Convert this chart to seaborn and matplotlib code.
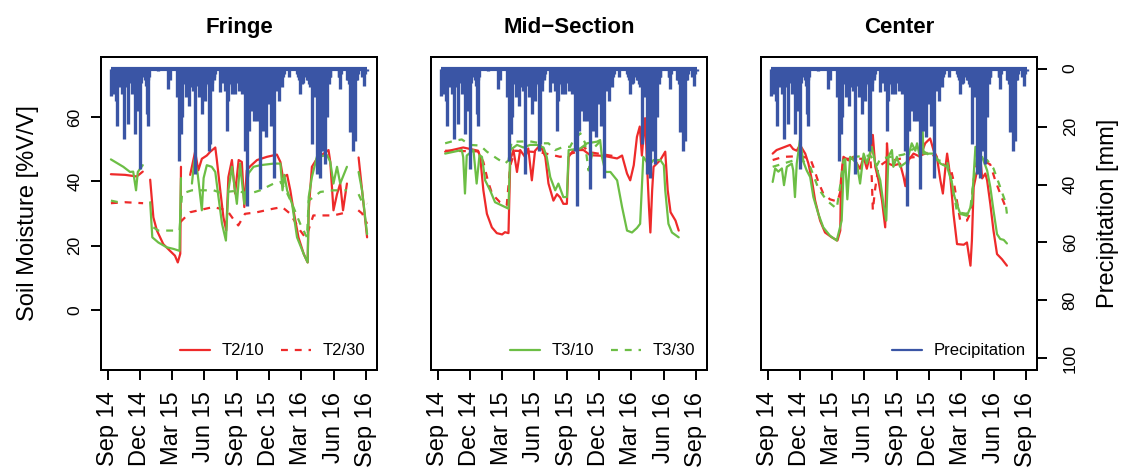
import numpy as np
import pandas as pd
import matplotlib
matplotlib.use("Agg")
import matplotlib.pyplot as plt
from matplotlib.lines import Line2D
import seaborn as sns

# ---------------- data (days since 2014-09-01) ----------------
START = "2014-09-01"

precip_days = [9, 16, 24, 27, 33, 37, 41, 46, 52, 58, 63, 68, 73, 77, 82, 90, 96, 106, 110, 115,
               143, 170, 176, 197, 202, 207, 211, 216, 221, 225, 230, 235, 240, 247, 252, 257, 261,
               266, 271, 275, 280, 285, 290, 294, 299, 304, 318, 323, 327, 332, 337, 341, 346, 351,
               356, 360, 365, 370, 374, 379, 384, 389, 393, 398, 403, 407, 412, 417, 422, 429, 433,
               439, 442, 447, 452, 457, 461, 467, 471, 478, 483, 488, 492, 497, 511, 535, 544, 549,
               556, 563, 568, 573, 577, 582, 587, 591, 596, 601, 606, 610, 615, 620, 624, 629, 653,
               657, 676, 681, 686, 692, 700, 705, 723, 733]
precip_mm = [9.3, 8.8, 11.1, 19.7, 6.5, 5.3, 8.8, 24.3, 6.5, 19.1, 4.1, 8.8, 3.0, 22.6, 14.5, 34.7,
             1.3, 4.1, 15.7, 19.7, 0.7, 7.0, 4.1, 9.9, 31.8, 22.6, 16.8, 5.3, 9.9, 8.8, 12.8, 6.5,
             7.6, 36.4, 5.3, 9.9, 4.7, 15.7, 7.6, 11.1, 5.3, 28.4, 26.1, 7.6, 4.1, 1.8, 8.2, 1.8,
             4.1, 7.6, 21.4, 11.1, 5.3, 8.8, 6.5, 8.8, 4.1, 7.6, 3.0, 8.8, 6.5, 28.4, 47.4, 21.4,
             8.8, 14.5, 18.0, 5.3, 18.0, 41.6, 16.8, 21.4, 9.9, 23.7, 12.2, 6.5, 19.7, 3.0, 37.6,
             7.6, 11.1, 4.1, 6.5, 1.8, 3.0, 1.8, 8.8, 5.3, 2.4, 4.1, 5.3, 6.5, 26.1, 7.6, 9.9, 36.4,
             30.7, 37.6, 28.4, 21.4, 33.0, 16.8, 5.3, 3.0, 3.0, 7.0, 4.1, 5.3, 22.0, 28.4, 24.9,
             4.1, 5.9, 1.0]
# smaller daily totals filling the top band (estimated)
precip_small_days = [12, 19, 30, 44, 49, 55, 61, 66, 70, 75, 80, 86, 93, 100, 103, 108, 113, 118,
                     199, 204, 209, 213, 218, 223, 228, 232, 237, 244, 249, 254, 259, 263, 268, 273,
                     278, 282, 287, 292, 296, 301, 320, 325, 330, 334, 339, 344, 348, 353, 358, 363,
                     367, 372, 377, 381, 386, 391, 396, 400, 405, 410, 414, 419, 425, 431, 436, 444,
                     449, 454, 459, 464, 469, 474, 480, 485, 490, 495, 538, 541, 546, 552, 559, 566,
                     570, 575, 580, 584, 589, 594, 598, 603, 608, 612, 617, 622, 627, 655, 660, 679,
                     684, 689, 695, 702, 708, 720, 728]
precip_small_mm = [3, 5, 4, 3, 6, 4, 3, 5, 2, 4, 6, 3, 5, 3, 2, 6, 4, 3,
                   4, 6, 3, 5, 4, 3, 6, 4, 3, 5, 4, 6, 3, 5, 4, 3,
                   5, 4, 6, 3, 5, 3, 3, 5, 4, 3, 6, 4, 3, 5, 4, 3,
                   5, 4, 3, 5, 6, 4, 3, 5, 6, 4, 3, 5, 4, 6, 3, 5,
                   4, 3, 5, 4, 3, 5, 4, 3, 5, 3, 3, 4, 3, 5, 3, 4,
                   3, 5, 4, 6, 5, 4, 6, 5, 4, 3, 5, 4, 3, 3, 2, 4,
                   3, 5, 3, 4, 2, 3, 2]

# Fringe
t2_10_days = [9, 49, 82, 99, np.nan, 120, 129, 139, 157, 176, 190, 198, 205, 207, np.nan, 233, 247, 256,
              266, 280, 290, 304, 308, 318, 327, 335, 341, 351, 360, 370, 379, 386, 393, 403, 422,
              450, 478, 488, 495, 507, 516, 525, 539, 554, 565, 568, 577, 591, 610, 624, 629, 638,
              648, 657, 665, 676, np.nan, 709, 719, 733]
t2_10_vals = [42.2, 42, 41.5, 43, np.nan, 40.5, 28.8, 24.7, 20.5, 18.4, 16.9, 14.8, 17.5, 44.5, np.nan,
              42, 49.2, 43.4, 47, 48, 49.2, 50.5, 47, 37.2, 28.8, 24.7, 41.3, 46.6, 36.2, 46.6, 46,
              32, 43.4, 44.7, 46.6, 47.6, 48.3, 46, 41.3, 42, 37.2, 31, 22.6, 17.4, 14.8, 31, 44.5,
              47, 48.6, 49.7, 46, 31, 36, 39.3, 31, 39.3, np.nan, 47.4, 37, 22.6]
t2_30_days = [9, 49, 100, np.nan, 205, 233, 298, 337, 354, 369, 388, 422, 468, 493, 516, 544, 558, 567,
              581, 638, 677, np.nan, 708, 719, 733]
t2_30_vals = [33.2, 33.5, 33.2, np.nan, 27.3, 30.4, 32, 31, 28.4, 26.3, 29.9, 30.4, 31.5, 32, 29.9,
              24.7, 22.6, 24.7, 29.4, 29.4, 30.4, np.nan, 31, 30, 26.8]
f_t3_10_days = [9, 44, 63, 72, 80, 85, 99, np.nan, 120, 126, 143, 167, 186, 203, 205, 207, np.nan, 238,
                245, 254, 266, 271, 280, 294, 304, 313, 323, 334, 341, 351, 365, 374, 386, 398, 412,
                431, 469, 488, 494, 499, 507, 521, 535, 554, 565, 568, 577, 591, 620, 629, 638, 648,
                657, 676, np.nan, 709, 719, 733]
f_t3_10_vals = [46.8, 44.5, 42.9, 43, 37.2, 42.9, 45, np.nan, 33.5, 22.6, 21, 19.5, 19, 18.4, 31, 41,
                np.nan, 39.3, 46.6, 42.5, 31, 41, 45, 44.5, 42.9, 35.1, 26.8, 21.6, 37.2, 44.5, 33,
                45.5, 33, 42.5, 44.5, 45, 45.5, 45.5, 37.2, 42, 37.2, 33, 22.6, 17.4, 14.8, 35.1,
                41.3, 47.6, 48.1, 46, 39.3, 44.5, 39.3, 44.5, np.nan, 42.9, 37, 23.6]
f_t3_30_days = [9, 44, np.nan, 129, 143, 203, 210, 238, 299, 318, 360, 403, 431, 469, 488, 502, 521, 544,
                563, 568, 601, 638, 676, np.nan, 709, 719, 733]
f_t3_30_vals = [34, 33.2, np.nan, 25.7, 24.7, 24.7, 36.2, 37.2, 37.2, 36.5, 37, 36.2, 37.2, 39.3, 39.8,
                37.5, 33, 26.8, 22.6, 34, 36.7, 37.2, 37.2, np.nan, 36, 33.5, 33]

# Mid-Section
m_t2_10_days = [21, 72, 114, 120, 129, 139, 153, 167, 182, 190, 200, 205, 214, 224, 233, 247, 256, 266,
                275, 290, 304, 313, 327, 337, 346, 355, 365, 370, 384, 412, 431, 469, 507, 521, 535,
                544, 554, 563, 571, 577, 586, 591, 597, 601, 606, 610, 629, 643, 650, 658, 672, 681]
m_t2_10_vals = [49.2, 50.5, 49.5, 47.6, 37.2, 29.9, 25.7, 23.9, 23.5, 24.2, 23.9, 46.6, 49.7, 42.9,
                49.7, 47.5, 50.2, 40.3, 49.5, 51.3, 47.6, 39.3, 34, 36, 35, 33, 33, 47.6, 49.7, 49.7,
                48.1, 47.9, 47.1, 48, 42.4, 40.3, 45, 53.8, 57, 48, 59.6, 46.6, 32, 24.1, 37.2, 44.5,
                46.6, 49.2, 37.2, 30.4, 27.8, 24.7]
m_t2_30_days = [21, 114, 129, 142, 154, 176, 195, 205, 219, 290, 346, 389, 412, 431, 459, 516]
m_t2_30_vals = [49.5, 49.3, 46, 40, 36, 33.5, 32.5, 45, 49.5, 49, 47.6, 49, 50.7, 49, 48.5, 47.5]
m_t3_10_days = [21, 68, 72, 77, 82, 101, 110, 118, 125, 134, 148, 162, 181, 200, 205, 224, 242, 261,
                280, 299, 308, 318, 332, 341, 355, 365, 370, 403, 422, 450, 459, 464, 474, 488, 507,
                521, 535, 549, 563, 572, 581, 597, 610, 629, 639, 643, 652, 662, 681]
m_t3_10_vals = [48.6, 49.7, 47.5, 36.2, 48, 49.7, 39.3, 48.1, 47.6, 40.3, 37.2, 33.5, 32.5, 31.5,
                49.7, 51.3, 50.5, 51.3, 51.3, 50.5, 47.6, 41.3, 37.2, 39.3, 35.1, 35.1, 49.7, 50.2,
                51.8, 52.3, 52.8, 47.6, 42.9, 42.9, 40.3, 32, 24.7, 24.1, 25.5, 26.8, 47.6, 45,
                46.6, 46.6, 45, 37.2, 26.8, 24.1, 22.6]
m_t3_30_days = [21, 44, 68, 91, 120, 139, 167, 190, 200, 209, 261, 290, 313, 332, 355, 374, 384, 403,
                416, 426, 440, 459]
m_t3_30_vals = [51.8, 52.5, 53, 51.3, 51.1, 49.2, 47.1, 45.5, 46.5, 52.3, 52.4, 51.8, 51.8, 49.7,
                50.7, 50.7, 52.8, 54.9, 52, 43.4, 50.2, 52.4]

# Center
c_t2_10_days = [14, 25, 44, 63, 72, 82, 91, 106, 115, 125, 134, 148, 162, 181, 197, 205, 207, 214, 228,
                242, 252, 261, 271, 280, 290, 297, 304, 313, 323, 332, 337, 341, 355, 374, 384, 389,
                398, 412, 431, 445, 459, 469, 478, 488, 495, 502, 507, 516, 525, 535, 554, 563, 568,
                573, 577, 582, 591, 601, 606, 615, 620, 629, 638, 648, 662, 676]
c_t2_10_vals = [48.6, 49.7, 50.5, 51.3, 50, 49.5, 51.3, 48.6, 45.5, 40.3, 34, 27.8, 24.1, 22.6, 21.6,
                24.7, 40.3, 47.6, 46.5, 47.6, 45.5, 43.9, 47.6, 43.9, 48.6, 54.4, 44.5, 40.3, 34,
                25.7, 51.8, 45.5, 44.9, 45.5, 41.3, 38.5, 46.6, 48.6, 47.6, 51.8, 53.3, 49.5, 47.6,
                40.3, 36.2, 44, 48.6, 41.3, 29.9, 20.5, 20.3, 21, 17.4, 13.8, 21.6, 38.2, 42.9, 47.1,
                40.9, 42.4, 40.3, 33, 24.7, 17.4, 15.8, 13.8]
c_t2_30_days = [14, 44, 91, 120, 129, 143, 157, 176, 197, 205, 209, 214, 261, 290, 294, 297, 304, 313,
                332, 374, 422, 459, 488, 516, 525, 535, 544, 563, 573, 582, 591, 610, 629, 643, 657,
                676]
c_t2_30_vals = [46.6, 47.6, 47.8, 47.1, 44.5, 39.8, 36.2, 34.4, 33.7, 36.7, 43, 47, 47, 47, 41.3, 31,
                38, 44.5, 46, 47, 47.6, 49.2, 45.5, 44.5, 40.3, 33.7, 27.8, 27.8, 30.2, 40.3, 45.5,
                46.5, 45.2, 40.3, 36.2, 31]
c_t3_10_days = [14, 21, 30, 40, 46, 54, 68, 72, 77, 82, 91, 101, 110, 120, 129, 143, 157, 176, 195,
                209, 214, 219, 225, 233, 252, 261, 271, 280, 294, 304, 318, 327, 335, 341, 351, 355,
                365, 374, 393, 407, 417, 422, 431, 437, 440, 469, 488, 507, 521, 525, 544, 563, 577,
                587, 596, 606, 620, 629, 638, 648, 657, 667, 676]
c_t3_10_vals = [39.8, 44, 43, 44, 38.8, 44.5, 45.5, 43.4, 35.1, 45.5, 52.8, 46, 43.4, 41.3, 35.1,
                29.9, 25.7, 23.1, 21.6, 27.8, 42.4, 46.6, 34.4, 47.6, 45.5, 39.3, 48.6, 45.5, 50.7,
                45.5, 40.3, 33, 27.8, 47.6, 49.7, 44.5, 47.6, 44.5, 46, 51.8, 49.5, 51.8, 47, 59,
                48.6, 48.6, 45.5, 44.5, 39.3, 36.2, 29.9, 29.3, 33, 50.7, 45.5, 47.6, 43.4, 38.2,
                31, 23.6, 22.1, 21.8, 20.7]
c_t3_30_days = [14, 44, 91, 120, 143, 167, 195, 205, 214, 233, 290, 309, 318, 384, 422, 450, 478, 507,
                521, 535, 563, 573, 582, 591, 620, 638, 657, 672, 676]
c_t3_30_vals = [44.5, 45.5, 47.1, 44.5, 37.8, 34, 31.5, 38.8, 46.6, 47.5, 48, 45, 47, 48.3, 50.7,
                48.6, 46.6, 46, 39.3, 30.4, 29.9, 32, 40.3, 47.1, 46.6, 44, 38.2, 33.5, 29.9]

x_tick_labels = ["Sep 14", "Dec 14", "Mar 15", "Jun 15", "Sep 15", "Dec 15", "Mar 16", "Jun 16", "Sep 16"]
titles = ["Fringe", "Mid\u2212Section", "Center"]

# ---------------- styling ----------------
RED = "#EE2A2A"
GREEN = "#6CBE45"
BLUE = "#3A55A5"
LW = 1.6
DASH = (0, (3.1, 3.1))

sns.set_theme(style="ticks", rc={"text.color": "black", "axes.labelcolor": "black",
                                 "xtick.color": "black", "ytick.color": "black",
                                 "axes.edgecolor": "black"})
plt.rcParams["font.family"] = ["Liberation Sans", "DejaVu Sans"]
plt.rcParams["axes.linewidth"] = 1.4

start = pd.Timestamp(START)


def to_dates(days):
    return start + pd.to_timedelta(np.asarray(days, dtype=float), unit="D")


def draw_series(ax, days, vals, color, ls):
    days = np.asarray(days, dtype=float)
    vals = np.asarray(vals, dtype=float)
    breaks = np.isnan(vals) | np.isnan(days)
    seg_id = np.cumsum(breaks)
    for s in np.unique(seg_id[~breaks]):
        m = (seg_id == s) & ~breaks
        sns.lineplot(x=to_dates(days[m]), y=vals[m], ax=ax, color=color, linewidth=LW,
                     linestyle=ls, sort=False, estimator=None, legend=False)


panel_series = [
    [(t2_10_days, t2_10_vals, RED, "-"), (t2_30_days, t2_30_vals, RED, DASH),
     (f_t3_10_days, f_t3_10_vals, GREEN, "-"), (f_t3_30_days, f_t3_30_vals, GREEN, DASH)],
    [(m_t2_10_days, m_t2_10_vals, RED, "-"), (m_t2_30_days, m_t2_30_vals, RED, DASH),
     (m_t3_10_days, m_t3_10_vals, GREEN, "-"), (m_t3_30_days, m_t3_30_vals, GREEN, DASH)],
    [(c_t2_10_days, c_t2_10_vals, RED, "-"), (c_t2_30_days, c_t2_30_vals, RED, DASH),
     (c_t3_10_days, c_t3_10_vals, GREEN, "-"), (c_t3_30_days, c_t3_30_vals, GREEN, DASH)],
]

W, H = 1121, 472
fig = plt.figure(figsize=(W / 100, H / 100), dpi=100)
lefts = [101, 431, 761]
pw = 276
top, bottom = 57, 370

xlim = (to_dates([-19])[0], to_dates([761])[0])
xticks = pd.date_range("2014-09-01", "2016-09-01", freq="3MS")
all_pdays = np.concatenate([precip_days, precip_small_days])
all_pmm = np.concatenate([precip_mm, precip_small_mm])
pdates = to_dates(all_pdays)

for i in range(3):
    ax = fig.add_axes([lefts[i] / W, 1 - bottom / H, pw / W, (bottom - top) / H])
    for d, v, c, ls in panel_series[i]:
        draw_series(ax, d, v, c, ls)
    ax.set_xlim(*xlim)
    ax.set_ylim(-18.6, 78.6)
    ax.set_xticks(xticks)
    ax.set_xticklabels(x_tick_labels, rotation=90, fontsize=17)
    ax.tick_params(axis="x", length=7.5, width=1.4, pad=8, color="black")
    ax.set_xlabel("")
    ax.set_title(titles[i], fontsize=16, fontweight="bold", pad=17)
    for sp in ax.spines.values():
        sp.set_visible(True)
        sp.set_color("black")
        sp.set_linewidth(1.4)
    if i == 0:
        ax.set_yticks([0, 20, 40, 60])
        ax.tick_params(axis="y", length=7.5, width=1.4, pad=6, labelsize=12.5, labelrotation=90)
        for lab in ax.get_yticklabels():
            lab.set_va("center")
        ax.set_ylabel("Soil Moisture [%V/V]", fontsize=17, labelpad=20)
    else:
        ax.set_yticks([])
        ax.set_ylabel("")

    ax2 = ax.twinx()
    ax2.vlines(pdates, 0, all_pmm, color=BLUE, linewidth=2.4)
    ax2.hlines(0, pdates.min(), pdates.max(), color=BLUE, linewidth=3.0)
    ax2.set_ylim(104, -4)
    ax2.set_xlim(*xlim)
    if i == 2:
        ax2.set_yticks([0, 20, 40, 60, 80, 100])
        ax2.tick_params(axis="y", length=7.5, width=1.4, pad=11, labelsize=12.5, labelrotation=90)
        for lab in ax2.get_yticklabels():
            lab.set_va("center")
        ax2.set_ylabel("Precipitation [mm]", fontsize=17, labelpad=14)
        handles = [Line2D([], [], color=BLUE, linewidth=LW)]
        labels = ["Precipitation"]
        ax2.legend(handles, labels, loc="lower right", frameon=False, fontsize=12,
                   handlelength=1.8, handletextpad=0.7, borderaxespad=0.3)
    else:
        ax2.set_yticks([])
        col = RED if i == 0 else GREEN
        tag = "T2" if i == 0 else "T3"
        handles = [Line2D([], [], color=col, linewidth=LW),
                   Line2D([], [], color=col, linewidth=LW, linestyle=DASH)]
        labels = [f"{tag}/10", f"{tag}/30"]
        ax2.legend(handles, labels, loc="lower right", ncol=2, frameon=False, fontsize=12,
                   handlelength=1.8, handletextpad=0.7, columnspacing=1.0, borderaxespad=0.3)

fig.savefig("out.png", dpi=100)
